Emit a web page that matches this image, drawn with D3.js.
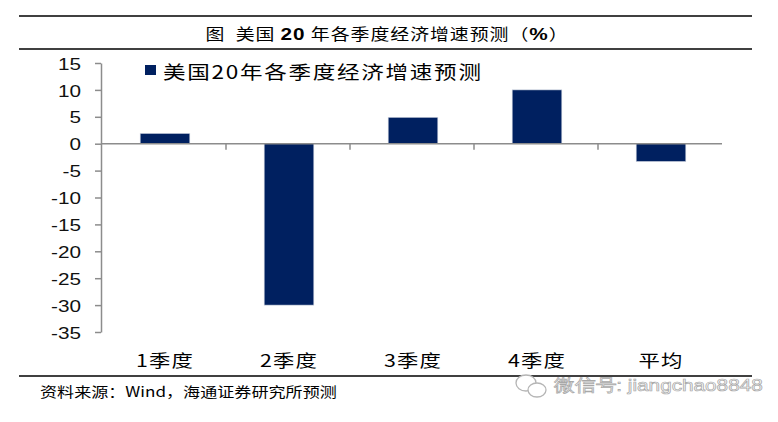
<!DOCTYPE html>
<html><head><meta charset="utf-8">
<script src="https://cdn.jsdelivr.net/npm/d3@7"></script>
<style>body{margin:0;background:#fff}svg{display:block}</style>
</head><body>
<svg id="c" width="778" height="422"></svg>
<script>
const categories = ["1季度", "2季度", "3季度", "4季度", "平均"];
const values = [1.9, -30, 4.9, 10, -3.3];
const yTicks = [15, 10, 5, 0, -5, -10, -15, -20, -25, -30, -35];
const seriesName = "美国20年各季度经济增速预测";
const sourceText = "资料来源：Wind，海通证券研究所预测";
const watermarkText = "微信号: jiangchao8848";

const SX = 1.22;
const cjk = "'Noto Sans CJK SC', 'Liberation Sans', sans-serif";
const latin = "'Liberation Sans', Arial, sans-serif";
const svg = d3.select("#c");

// frame lines
[16, 49, 376].forEach(y => svg.append("line").attr("x1", 19).attr("x2", 752)
  .attr("y1", y).attr("y2", y).attr("stroke", "#000").attr("stroke-width", 1.5));

// title
const t = svg.append("text").attr("transform", `translate(387,40) scale(${SX},1)`)
  .attr("text-anchor", "middle").attr("font-family", cjk).attr("font-size", 15.5)
  .attr("letter-spacing", 0.8).attr("fill", "#000").attr("xml:space", "preserve")
  .style("white-space", "pre");
t.append("tspan").text("图  美国 ");
t.append("tspan").attr("font-family", latin).attr("font-weight", "bold").attr("font-size", 17).text("20");
t.append("tspan").text(" 年各季度经济增速预测（");
t.append("tspan").attr("font-family", latin).attr("font-weight", "bold").attr("font-size", 17).text("%");
t.append("tspan").text("）");

const x = d3.scaleBand().domain(categories).range([102, 722]).padding(0);
const y = d3.scaleLinear().domain([-35, 15]).range([332, 63]);

// y axis
const ya = svg.append("g").attr("transform", "translate(101,0)")
  .call(d3.axisLeft(y).tickValues(yTicks).tickSize(6).tickSizeOuter(0).tickFormat(d => String(d)));
ya.select(".domain").attr("stroke", "#8c8c8c").attr("stroke-width", 1.5);
ya.selectAll(".tick line").attr("stroke", "#8c8c8c").attr("stroke-width", 1.5);
ya.selectAll(".tick text").attr("x", -20 / SX).attr("transform", `scale(${SX},1)`)
  .attr("font-family", latin).attr("font-size", 17).attr("fill", "#111").attr("dy", "0.36em");

// bars
const bw = x.bandwidth() * 0.4;
svg.append("g").selectAll("rect").data(values).join("rect")
  .attr("x", (d, i) => x(categories[i]) + (x.bandwidth() - bw) / 2 + 1)
  .attr("width", bw)
  .attr("y", d => y(Math.max(0, d)))
  .attr("height", d => Math.abs(y(d) - y(0)))
  .attr("fill", "#002060").attr("stroke", "#c8cfdc").attr("stroke-width", 0.6);

// zero line with category ticks
svg.append("line").attr("x1", 101).attr("x2", 722).attr("y1", y(0)).attr("y2", y(0))
  .attr("stroke", "#8c8c8c").attr("stroke-width", 1.5);
svg.append("g").selectAll("line").data(categories.slice(1)).join("line")
  .attr("x1", d => x(d)).attr("x2", d => x(d))
  .attr("y1", y(0)).attr("y2", y(0) + 6)
  .attr("stroke", "#8c8c8c").attr("stroke-width", 1.5);

// category labels
svg.append("g").selectAll("text").data(categories).join("text")
  .attr("transform", d => `translate(${x(d) + x.bandwidth() / 2 + 1},367) scale(${SX},1)`)
  .attr("text-anchor", "middle").attr("font-family", cjk).attr("font-size", 17.5)
  .attr("letter-spacing", 1).attr("fill", "#000").text(d => d);

// legend
svg.append("rect").attr("x", 145).attr("y", 65).attr("width", 11).attr("height", 10).attr("fill", "#002060");
svg.append("text").attr("transform", `translate(163,79) scale(${SX},1)`)
  .attr("font-family", cjk).attr("font-size", 18.5).attr("letter-spacing", 1.4)
  .attr("fill", "#000").text(seriesName);

// source
svg.append("text").attr("transform", `translate(40,397) scale(${SX},1)`)
  .attr("font-family", cjk).attr("font-size", 14).attr("fill", "#000").text(sourceText);

// watermark
const wm = svg.append("g").attr("fill", "none").attr("stroke", "#b5b5b5").attr("stroke-width", 1.3);
wm.append("ellipse").attr("cx", 526).attr("cy", 383).attr("rx", 10).attr("ry", 8).attr("fill", "#fff");
wm.append("ellipse").attr("cx", 537).attr("cy", 390).attr("rx", 9).attr("ry", 7).attr("fill", "#fff");
svg.append("text").attr("transform", `translate(554,391) scale(${SX},1)`)
  .attr("font-family", latin).attr("font-size", 17).attr("fill", "#fff")
  .attr("stroke", "#a8a8a8").attr("stroke-width", 0.7).text(watermarkText);
</script>
</body></html>
